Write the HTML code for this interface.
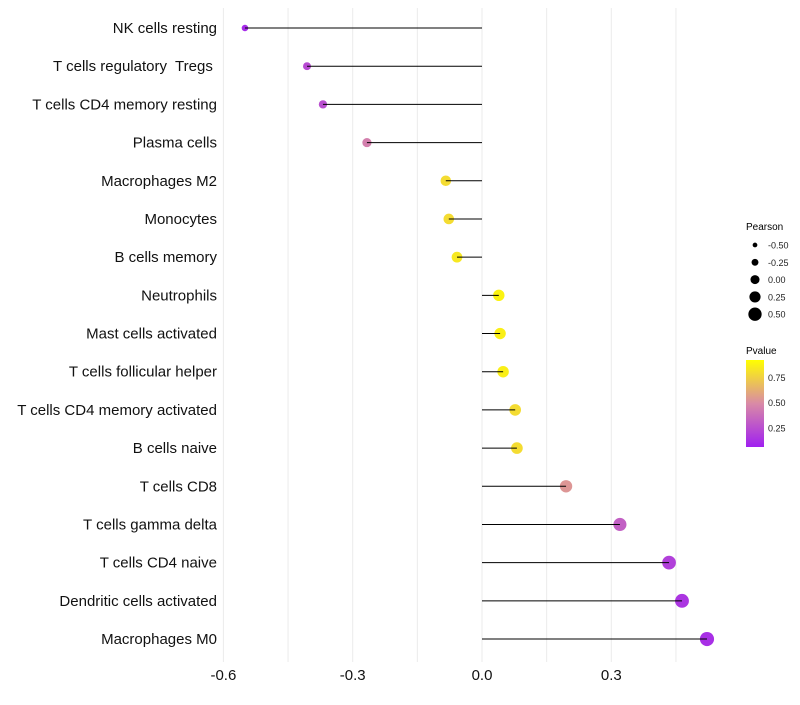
<!DOCTYPE html>
<html><head><meta charset="utf-8"><style>
body{margin:0;background:#fff;font-family:"Liberation Sans",sans-serif}
text{white-space:pre}
</style></head><body>
<svg id="chart" width="800" height="700" xmlns="http://www.w3.org/2000/svg" font-family="Liberation Sans, sans-serif">
<g id="grid"></g>
<g id="marks"></g>
<g id="ylabels"></g>
<g id="xlabels"></g>
<g id="legend">
<defs><linearGradient id="pg" x1="0" y1="1" x2="0" y2="0">
<stop offset="0" stop-color="#a020f0"/><stop offset="0.5" stop-color="#d98aa6"/><stop offset="1" stop-color="#ffff00"/></linearGradient></defs>
<text x="746" y="230" font-size="10">Pearson</text>
<g id="sizeleg"></g>
<text x="746" y="354" font-size="10">Pvalue</text>
<rect x="746" y="360" width="18" height="87" fill="url(#pg)"/>
<g id="colleg"></g>
</g>
</svg>
<script>
const categories=["NK cells resting","T cells regulatory  Tregs ","T cells CD4 memory resting","Plasma cells","Macrophages M2","Monocytes","B cells memory","Neutrophils","Mast cells activated","T cells follicular helper","T cells CD4 memory activated","B cells naive","T cells CD8","T cells gamma delta","T cells CD4 naive","Dendritic cells activated","Macrophages M0"];
const pearson=[-0.55,-0.406,-0.369,-0.267,-0.084,-0.077,-0.058,0.039,0.042,0.049,0.077,0.081,0.195,0.32,0.434,0.464,0.522];
const pvalue=[0.05,0.2,0.22,0.45,0.85,0.85,0.9,0.95,0.93,0.93,0.85,0.85,0.55,0.3,0.15,0.1,0.07];
const xTicks=[-0.6,-0.3,0.0,0.3];
const xTickLabels=["-0.6","-0.3","0.0","0.3"];
const sizeLegend=[-0.5,-0.25,0,0.25,0.5];
const sizeLegendLabels=["-0.50","-0.25","0.00","0.25","0.50"];
const colorLegend=[0.75,0.5,0.25];
const colorLegendLabels=["0.75","0.50","0.25"];
const NS="http://www.w3.org/2000/svg";
const xs=v=>482+v*431;
const ys=i=>28+i*38.19;
const rs=v=>Math.sqrt(Math.max(4,31+37*v));
const rl=v=>4.75+4.5*v;
const cy=p=>453-p*101;
function lerp(a,b,t){return a.map((x,i)=>Math.round(x+(b[i]-x)*t));}
function col(p){const A=[160,32,240],B=[217,138,166],C=[255,255,0];const c=p<0.5?lerp(A,B,p/0.5):lerp(B,C,(p-0.5)/0.5);return `rgb(${c})`;}
function mk(t,a,par){const e=document.createElementNS(NS,t);for(const k in a)e.setAttribute(k,a[k]);document.getElementById(par).appendChild(e);return e;}
[-0.6,-0.45,-0.3,-0.15,0,0.15,0.3,0.45].forEach(v=>{
 const l=mk('line',{x1:xs(v),x2:xs(v),y1:8,y2:662,stroke:'#ebebeb','stroke-width':1},'grid');
 
 
});
categories.forEach((c,i)=>{
 const y=ys(i);
 const pt=mk('circle',{cx:xs(pearson[i]),cy:y,r:rs(pearson[i]),fill:col(pvalue[i])},'marks');
 
 
 const ln=mk('line',{x1:xs(0),x2:xs(pearson[i]),y1:y,y2:y,stroke:'#000','stroke-width':1},'marks');
 
 
 const t=mk('text',{x:217,y:y+5,'text-anchor':'end','font-size':15,fill:'#111'},'ylabels');
 t.textContent=c;
 
 
});
xTicks.forEach((v,i)=>{
 const t=mk('text',{x:xs(v),y:680,'text-anchor':'middle','font-size':15,fill:'#111'},'xlabels');
 t.textContent=xTickLabels[i];
 
 
});
sizeLegend.forEach((v,i)=>{
 const y=245+i*17.3;
 const c=mk('circle',{cx:755,cy:y,r:rl(v)*0.95,fill:'#000'},'sizeleg');
 
 
 const t=mk('text',{x:768,y:y+3.5,'font-size':9,fill:'#222'},'sizeleg');
 t.textContent=sizeLegendLabels[i];
 
 
});
colorLegend.forEach((v,i)=>{
 const t=mk('text',{x:768,y:cy(v)+3.5,'font-size':9,fill:'#222'},'colleg');
 t.textContent=colorLegendLabels[i];
 
 
});
</script>
</body></html>
